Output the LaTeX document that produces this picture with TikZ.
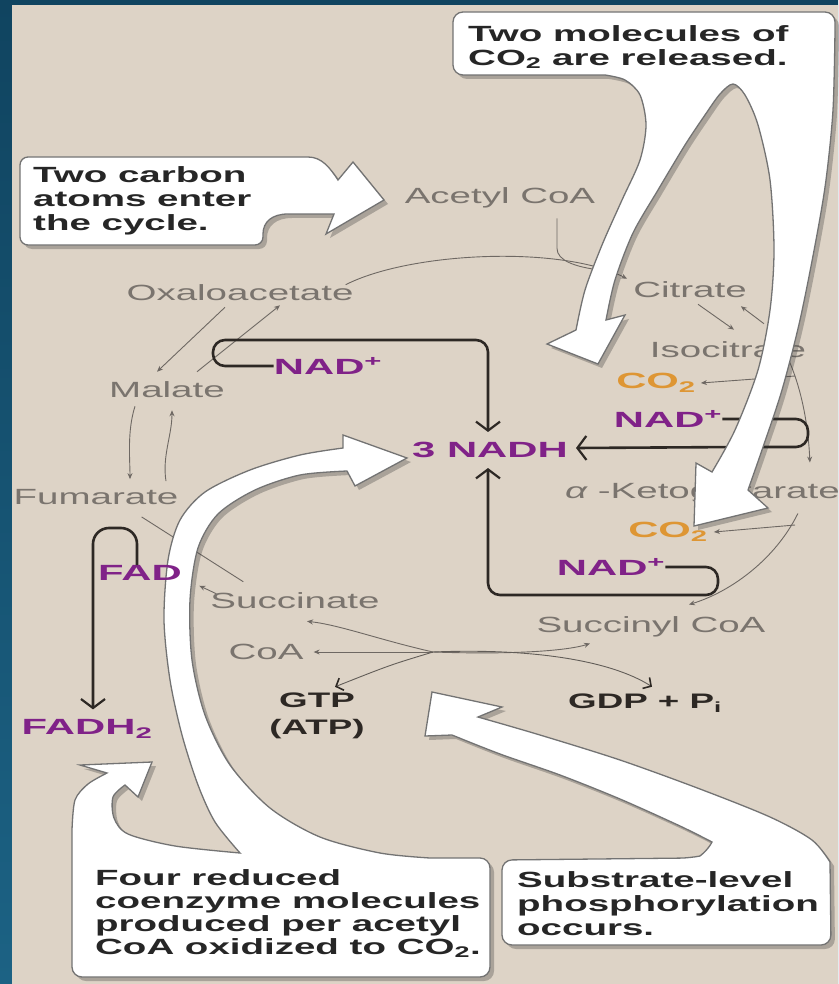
\documentclass[tikz,border=0pt]{standalone}
\usepackage{fontspec}
\setmainfont{Liberation Sans}
\newfontfamily\labfont[FakeStretch=1.75]{Liberation Sans}
\newfontfamily\heavyfont[FakeStretch=1.9]{Liberation Sans}
\usetikzlibrary{arrows.meta,shadows}
\definecolor{frame}{RGB}{16,68,96}
\definecolor{frameb}{RGB}{28,98,132}
\definecolor{paper}{RGB}{221,211,198}
\definecolor{labgray}{RGB}{122,116,110}
\definecolor{nadpurple}{RGB}{128,34,136}
\definecolor{cotwo}{RGB}{222,150,52}
\definecolor{inkdark}{RGB}{45,40,36}
\begin{document}
\begin{tikzpicture}[x=1pt, y=-1pt,
  cyclab/.style={text=labgray, inner sep=0pt, font=\labfont\fontsize{22}{24}\selectfont},
  redox/.style={text=nadpurple, inner sep=0pt, font=\heavyfont\bfseries\fontsize{22}{24}\selectfont},
  gas/.style={text=cotwo, inner sep=0pt, font=\heavyfont\bfseries\fontsize{22}{24}\selectfont},
  energy/.style={text=inkdark, inner sep=0pt, align=center, font=\labfont\bfseries\fontsize{21}{27}\selectfont},
  note/.style={text=black!85, inner sep=0pt, align=left, anchor=north west, font=\labfont\bfseries\fontsize{22}{24}\selectfont},
  cyc/.style={draw=labgray!90!black, line width=0.9pt, -{Stealth[length=6pt,width=5pt]}},
  enarr/.style={draw=labgray!80!black, line width=0.9pt, -{Straight Barb[length=6pt,width=13pt,line width=1.6pt,color=inkdark]}},
  nadarr/.style={draw=inkdark, line width=2.6pt, -{Straight Barb[length=9pt,width=24pt,line width=2.2pt]}},
  callout/.style={fill=white, draw=black!55, line width=1.3pt,
    drop shadow={shadow xshift=4pt, shadow yshift=-4pt, opacity=0.3, fill=black!80}}]
  \useasboundingbox (0,0) rectangle (838,984);
  % 背景
  \shade[top color=frame, bottom color=frameb] (0,0) rectangle (838,984);
  \fill[paper] (12,5) rectangle (838,984);
  % 循环中间物
  \node[cyclab] (acetyl) at (500,198) {Acetyl CoA};
  \node[cyclab] (oxalo) at (240,293) {Oxaloacetate};
  \node[cyclab] (citrate) at (690,290) {Citrate};
  \node[cyclab] (isocit) at (728,350) {Isocitrate};
  \node[gas] (co2a) at (656,383) {CO\textsubscript{2}};
  \node[redox] (nada) at (668,419) {NAD\textsuperscript{+}};
  \node[redox] (nadh) at (490,450) {3 NADH};
  \node[cyclab, anchor=west] (akg) at (565,493) {{\itshape α} -Ketoglutarate};
  \node[gas] (co2b) at (668,532) {CO\textsubscript{2}};
  \node[redox] (nadb) at (611,567) {NAD\textsuperscript{+}};
  \node[cyclab] (succoa) at (651,627) {Succinyl CoA};
  \node[energy] (gdp) at (645,703) {GDP + P\textsubscript{i}};
  \node[energy] (gtp) at (317,716) {GTP\\(ATP)};
  \node[cyclab] (coa) at (266,652) {CoA};
  \node[cyclab] (succ) at (295,601) {Succinate};
  \node[cyclab] (fum) at (96,497) {Fumarate};
  \node[cyclab] (malate) at (167,390) {Malate};
  \node[redox] (nadc) at (328,366) {NAD\textsuperscript{+}};
  % 细箭头
  \coordinate (merge) at (600,270);
  \draw[cyc] ([xshift=-8pt]oxalo.north east) .. controls (410,252) and (560,245) .. ([xshift=-6pt,yshift=3pt]citrate.north west);
  \draw[cyc, -] ([xshift=57pt,yshift=-10pt]acetyl.south) -- ++(0,30) .. controls +(0,12) and (575,267) .. (merge);
  \draw[cyc] ([xshift=8pt,yshift=-6pt]citrate.south) -- ([xshift=6pt,yshift=12pt]isocit.north);
  \draw[cyc] ([xshift=36pt,yshift=18pt]isocit.north) -- ([xshift=-6pt,yshift=-8pt]citrate.south east);
  \coordinate (isoturn) at (795,376);
  \draw[cyc] ([xshift=60pt]isocit.south) .. controls (800,385) and (808,420) .. ([xshift=-30pt,yshift=20pt]akg.north east);
  \draw[cyc] (isoturn) -- ([xshift=5pt]co2a.east);
  \coordinate (akgturn) at (795,525);
  \draw[cyc] ([xshift=-42pt,yshift=-10pt]akg.south east) .. controls (775,560) and (730,592) .. ([xshift=38pt,yshift=12pt]succoa.north);
  \draw[cyc] (akgturn) -- ([xshift=6pt]co2b.east);
  \draw[cyc] ([xshift=-15pt,yshift=-6pt]oxalo.south) -- ([xshift=-10pt,yshift=10pt]malate.north);
  \draw[cyc] ([xshift=30pt,yshift=10pt]malate.north) -- ([xshift=40pt,yshift=-4pt]oxalo.south);
  \draw[cyc] ([xshift=-32pt,yshift=-8pt]malate.south) .. controls +(-8,25) and +(0,-20) .. ([xshift=34pt,yshift=10pt]fum.north);
  \draw[cyc] ([xshift=70pt,yshift=8pt]fum.north) .. controls +(-4,-25) and +(0,25) .. ([xshift=5pt,yshift=-12pt]malate.south);
  \draw[cyc, -] ([xshift=-37pt,yshift=-12pt]fum.south east) -- ([xshift=33pt,yshift=11pt]succ.north west);
  \draw[cyc] ([xshift=6pt,yshift=-1pt]succ.north west) -- ([xshift=-11pt,yshift=7pt]succ.north west);
  % 琥珀酰CoA 分叉
  \coordinate (hub) at (433,652);
  \draw[cyc] (hub) .. controls (380,640) and (340,625) .. ([xshift=12pt,yshift=-12pt]succ.south);
  \draw[cyc] (hub) -- ([xshift=10pt]coa.east);
  \draw[cyc] (hub) .. controls (520,655) and (570,650) .. ([xshift=-61pt,yshift=-6pt]succoa.south);
  \draw[enarr] (hub) .. controls (390,665) .. ([xshift=18pt,yshift=6pt]gtp.north);
  \draw[enarr] (hub) .. controls (530,648) and (610,660) .. ([xshift=7pt,yshift=7pt]gdp.north);
  % NAD+ -> NADH 粗箭头
  \draw[nadarr] (nadc.west) [rounded corners=12pt] -- (213,366) -- (213,340) -- (488,340) -- (488,370)
    [sharp corners] -- ([xshift=-2pt,yshift=10pt]nadh.north);
  \draw[nadarr] (nada.east) [rounded corners=12pt] -- (808,419) -- (808,447) -- (740,447)
    [sharp corners] -- ([xshift=8pt,yshift=2pt]nadh.east);
  \draw[nadarr] (nadb.east) [rounded corners=12pt] -- (718,567) -- (718,595) -- (488,595) -- (488,560)
    [sharp corners] -- ([xshift=-2pt,yshift=-10pt]nadh.south);
  % 说明框（白色箭头）
  \path[callout] (20,200) [rounded corners=8pt] -- (20,157) -- (300,157) [sharp corners]
    .. controls (322,157) and (330,168) .. (338,180) -- (353,162) -- (384,200) -- (326,234) -- (334,214) -- (288,214)
    .. controls (272,214) and (263,222) .. (263,234) [rounded corners=8pt] -- (263,245) -- (20,245) -- cycle;
  \node[note] (carbon) at (33,166) {Two carbon\\atoms enter\\the cycle.};
  \path[callout] (453,45) [rounded corners=10pt] -- (453,12) -- (835,12) -- (835,30) [sharp corners]
    -- plot[smooth] coordinates {(835,30) (833,110) (826,180) (816,240) (800,320) (782,390) (762,450) (748,490)}
    -- (768,508) -- (694,526) -- (696,463) -- (712,472)
    -- plot[smooth] coordinates {(712,472) (735,430) (758,370) (770,310) (774,250) (770,180) (758,125) (745,95) (733,84) (720,94) (705,115) (685,145) (658,190) (633,233) (615,280) (606,320)}
    -- (625,315) -- (598,364) -- (547,344) -- (576,330)
    -- plot[smooth] coordinates {(576,330) (585,290) (602,245) (622,200) (640,160) (646,125) (640,95) (625,80) (605,75)}
    [rounded corners=10pt] -- (453,75) -- cycle;
  \node[note] (carbdiox) at (468,25) {Two molecules of\\CO\textsubscript{2} are released.};
  \path[callout] (72,900) -- (72,830) [sharp corners]
    -- plot[smooth] coordinates {(72,830) (75,800) (88,784) (107,773)}
    -- (80,765) -- (152,762) -- (138,797) -- (125,785)
    -- plot[smooth] coordinates {(125,785) (113,797) (114,818) (128,834) (175,846) (240,853)}
    -- plot[smooth] coordinates {(240,853) (215,822) (198,785) (182,735) (170,680) (164,620) (168,560) (180,520) (205,492) (250,470) (300,455) (343,448)}
    -- (343,435) -- (407,458) -- (355,486) -- (347,471)
    -- plot[smooth] coordinates {(347,471) (300,475) (255,490) (218,514) (198,548) (190,600) (192,660) (205,715) (230,765) (270,808) (320,837) (380,853) (430,858)}
    [rounded corners=10pt] -- (490,858) -- (490,977) -- (72,977) -- cycle;
  \node[note, font=\labfont\bfseries\fontsize{22}{23}\selectfont] (fourco) at (95,869)
    {Four reduced\\coenzyme molecules\\produced per acetyl\\CoA oxidized to CO\textsubscript{2}.};
  \path[callout] (502,900) [rounded corners=10pt] -- (502,860) -- (690,858) [sharp corners]
    .. controls (700,856) and (708,850) .. (712,842)
    -- plot[smooth] coordinates {(712,842) (680,826) (620,799) (560,775) (500,754) (452,735)}
    -- (425,736) -- (432,692) -- (502,707) -- (478,717)
    -- plot[smooth] coordinates {(478,717) (540,735) (620,760) (700,789) (770,817) (812,840) (830,862)}
    [rounded corners=10pt] -- (831,945) -- (502,945) -- cycle;
  \node[note] (substr) at (517,871) {Substrate-level\\phosphorylation\\occurs.};
  % FAD -> FADH2
  \node[redox] (fad) at (140,573) {FAD};
  \node[redox] (fadh) at (87,729) {FADH\textsubscript{2}};
  \draw[nadarr] ([xshift=-3pt]fad.north) [rounded corners=16pt] -- (137,528) -- (93,528) -- (93,570)
    [sharp corners] -- ([xshift=6pt,yshift=10pt]fadh.north);
\end{tikzpicture}
\end{document}
